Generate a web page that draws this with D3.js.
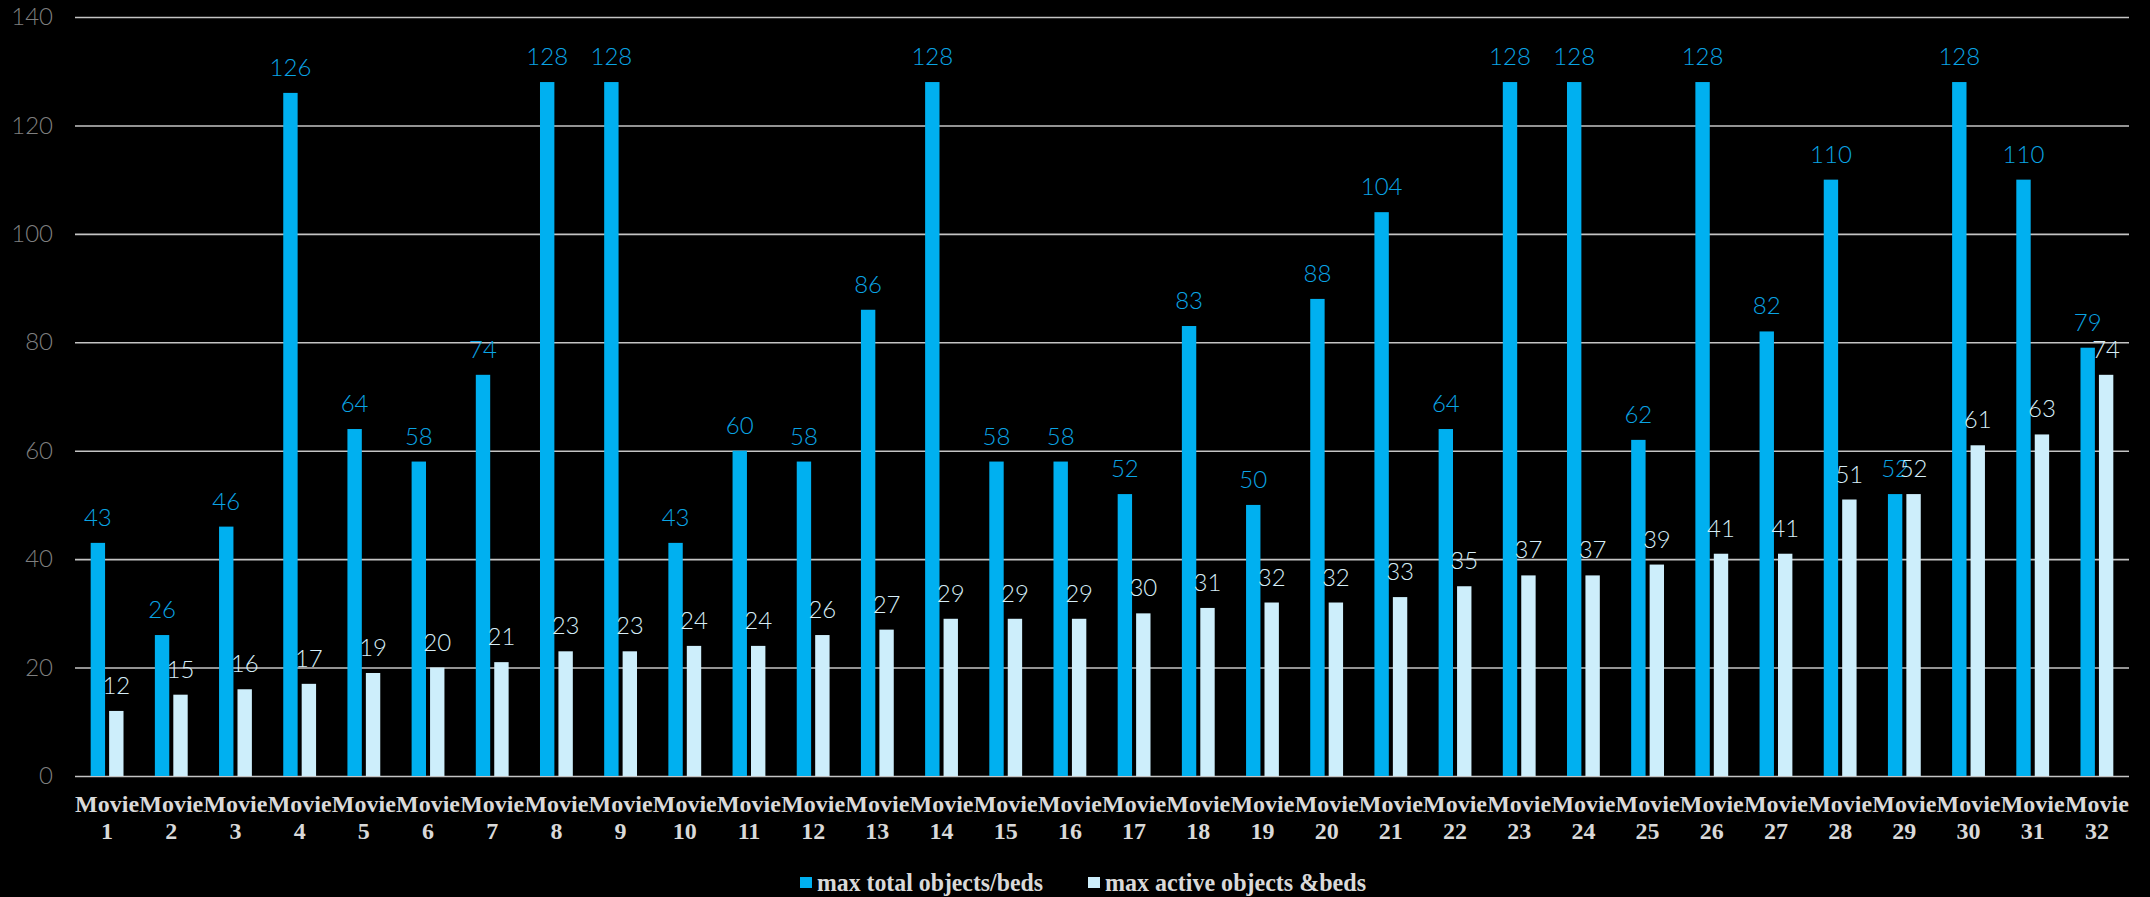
<!DOCTYPE html>
<html>
<head>
<meta charset="utf-8">
<script src="https://cdn.jsdelivr.net/npm/d3@7"></script>
<style>
  html, body { margin: 0; padding: 0; background: #000; }
  svg { display: block; }
</style>
</head>
<body>
<div id="chart"></div>
<script>
// chart data
var movies = ["1", "2", "3", "4", "5", "6", "7", "8", "9", "10", "11", "12", "13", "14", "15", "16",
              "17", "18", "19", "20", "21", "22", "23", "24", "25", "26", "27", "28", "29", "30", "31", "32"];
var maxTotal = [43, 26, 46, 126, 64, 58, 74, 128, 128, 43, 60, 58, 86, 128, 58, 58,
                52, 83, 50, 88, 104, 64, 128, 128, 62, 128, 82, 110, 52, 128, 110, 79];
var maxActive = [12, 15, 16, 17, 19, 20, 21, 23, 23, 24, 24, 26, 27, 29, 29, 29,
                 30, 31, 32, 32, 33, 35, 37, 37, 39, 41, 41, 51, 52, 61, 63, 74];
var seriesNames = ["max total objects/beds", "max active objects &beds"];
var yTicks = [0, 20, 40, 60, 80, 100, 120, 140];

var width = 2150, height = 897;
var margin = { top: 17, right: 21, bottom: 121, left: 75 };
var colors = ["#00b0f0", "#cdeefb"];
var labelColors = ["#0aa4e4", "#d6eef8"];

var svg = d3.select("#chart").append("svg")
    .attr("width", width).attr("height", height);
svg.append("rect").attr("width", width).attr("height", height).attr("fill", "#000");

var x0 = d3.scaleBand().domain(movies).range([margin.left, width - margin.right]).padding(0);
var x1 = d3.scaleBand().domain([0, 1]).range([0, x0.bandwidth()]).paddingInner(0.22).paddingOuter(0.85);
var y = d3.scaleLinear().domain([0, 140]).range([height - margin.bottom, margin.top]);

// gridlines
var yAxis = d3.axisLeft(y).tickValues(yTicks).tickSize(-(width - margin.left - margin.right)).tickPadding(22);
var gy = svg.append("g").attr("transform", "translate(" + margin.left + ",0)").call(yAxis);
gy.select(".domain").remove();
gy.selectAll(".tick line").attr("stroke", "#c4c4c4").attr("stroke-width", 1.6);
gy.selectAll(".tick text")
    .attr("fill", "#7f7f7f")
    .style("font-family", "Lato, 'Open Sans', sans-serif")
    .style("font-weight", 300)
    .style("font-size", "24px");

var rows = movies.map(function (m, i) {
    return { movie: m, values: [maxTotal[i], maxActive[i]] };
});

var groups = svg.selectAll("g.group").data(rows).enter().append("g")
    .attr("class", "group")
    .attr("transform", function (d) { return "translate(" + x0(d.movie) + ",0)"; });

groups.selectAll("rect").data(function (d) { return d.values; }).enter().append("rect")
    .attr("x", function (d, i) { return x1(i); })
    .attr("width", x1.bandwidth())
    .attr("y", function (d) { return y(d); })
    .attr("height", function (d) { return y(0) - y(d); })
    .attr("fill", function (d, i) { return colors[i]; });

groups.selectAll("text.val").data(function (d) { return d.values; }).enter().append("text")
    .attr("class", "val")
    .attr("x", function (d, i) { return x1(i) + x1.bandwidth() / 2; })
    .attr("y", function (d) { return y(d) - 17; })
    .attr("text-anchor", "middle")
    .attr("fill", function (d, i) { return labelColors[i]; })
    .style("font-family", "Lato, 'Open Sans', sans-serif")
    .style("font-weight", 300)
    .style("font-size", "24px")
    .text(function (d) { return d; });

// category labels
var xl = svg.append("g").selectAll("text").data(movies).enter().append("text")
    .attr("x", function (d) { return x0(d) + x0.bandwidth() / 2; })
    .attr("text-anchor", "middle")
    .attr("fill", "#d9d9d9")
    .style("font-family", "'Liberation Serif', 'Times New Roman', serif")
    .style("font-weight", "bold")
    .style("font-size", "24px");
xl.append("tspan").attr("x", function (d) { return x0(d) + x0.bandwidth() / 2; }).attr("y", 812).text("Movie");
xl.append("tspan").attr("x", function (d) { return x0(d) + x0.bandwidth() / 2; }).attr("y", 839).text(function (d) { return d; });

// legend
var legendX = [800, 1088];
var legendW = [226, 261];
var legend = svg.append("g").selectAll("g").data(seriesNames).enter().append("g")
    .attr("transform", function (d, i) { return "translate(" + legendX[i] + ",0)"; });
legend.append("rect").attr("x", 0).attr("y", 877).attr("width", 12).attr("height", 11)
    .attr("fill", function (d, i) { return colors[i]; });
legend.append("text")
    .attr("x", 17).attr("y", 891)
    .attr("fill", "#d9d9d9")
    .attr("textLength", function (d, i) { return legendW[i]; })
    .attr("lengthAdjust", "spacingAndGlyphs")
    .style("font-family", "'Liberation Serif', 'Times New Roman', serif")
    .style("font-weight", "bold")
    .style("font-size", "26px")
    .text(function (d) { return d; });
</script>
</body>
</html>
